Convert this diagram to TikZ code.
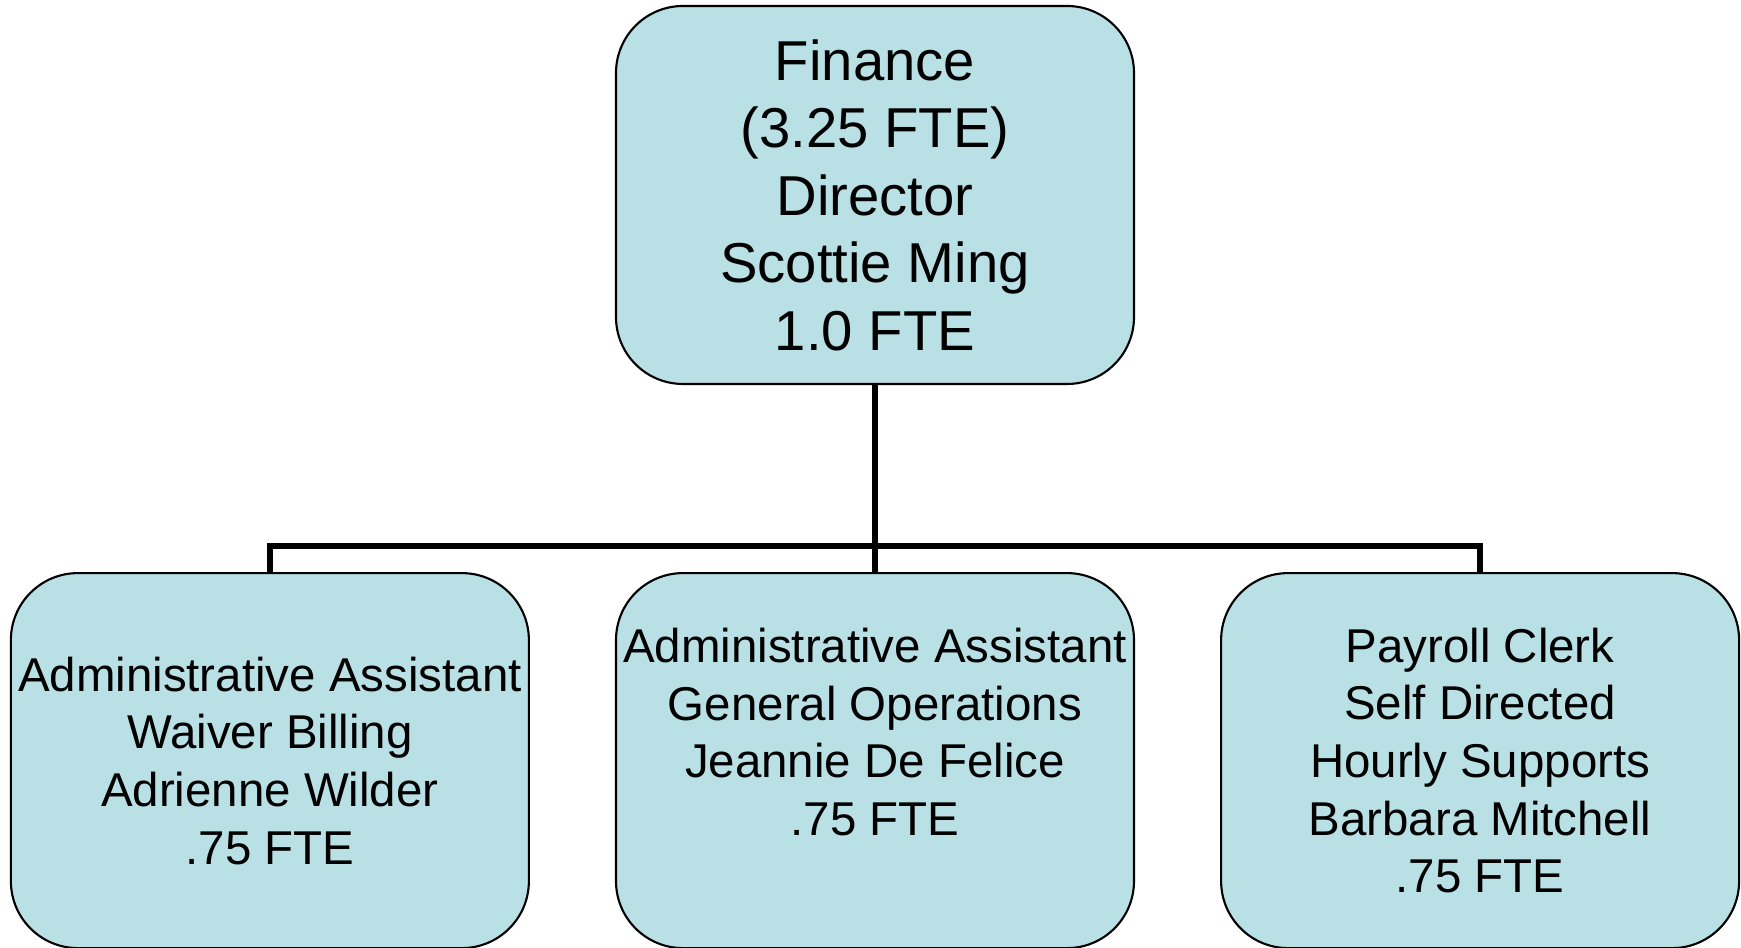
\documentclass[tikz,border=0pt]{standalone}
\usepackage{fontspec}
\setmainfont{Liberation Sans}
\usepackage{tikz}
\usetikzlibrary{positioning}
\definecolor{boxblue}{RGB}{185,224,228}

\begin{document}
\begin{tikzpicture}[node distance=1.2cm,semithick]
 \tikzstyle{head node}=[rectangle,rounded corners=0.67cm,draw=black,line width=0.6pt,fill=boxblue,
   minimum width=5.18cm,minimum height=3.78cm,inner sep=0,align=center,font=\fontsize{16}{19.2}\selectfont]
 \tikzstyle{staff node}=[head node,minimum height=3.75cm,font=\fontsize{13.5}{16.4}\selectfont]
 \tikzstyle{branch}=[draw=black,line width=1.9pt]

 \useasboundingbox (-8.75,1.95) rectangle (8.66,-7.53);

       \node[head node] (fin) {Finance\\(3.25 FTE)\\Director\\Scottie Ming\\1.0 FTE};

       \node[staff node] (ops) [below=1.87cm of fin] {Administrative Assistant\\General Operations\\Jeannie De Felice\\.75 FTE\\\mbox{}};
       \node[staff node] (bill) [left=0.85cm of ops] {Administrative Assistant\\Waiver Billing\\Adrienne Wilder\\.75 FTE};
       \node[staff node] (pay) [right=0.85cm of ops] {Payroll Clerk\\Self Directed\\Hourly Supports\\Barbara Mitchell\\.75 FTE};

       \coordinate[above=0.26cm of ops.north] (bus);

     \path[branch] (fin.south) -- (ops.north);
     \path[branch] (bill.north) |- (bus) -| (pay.north);
 \end{tikzpicture}
\end{document}
